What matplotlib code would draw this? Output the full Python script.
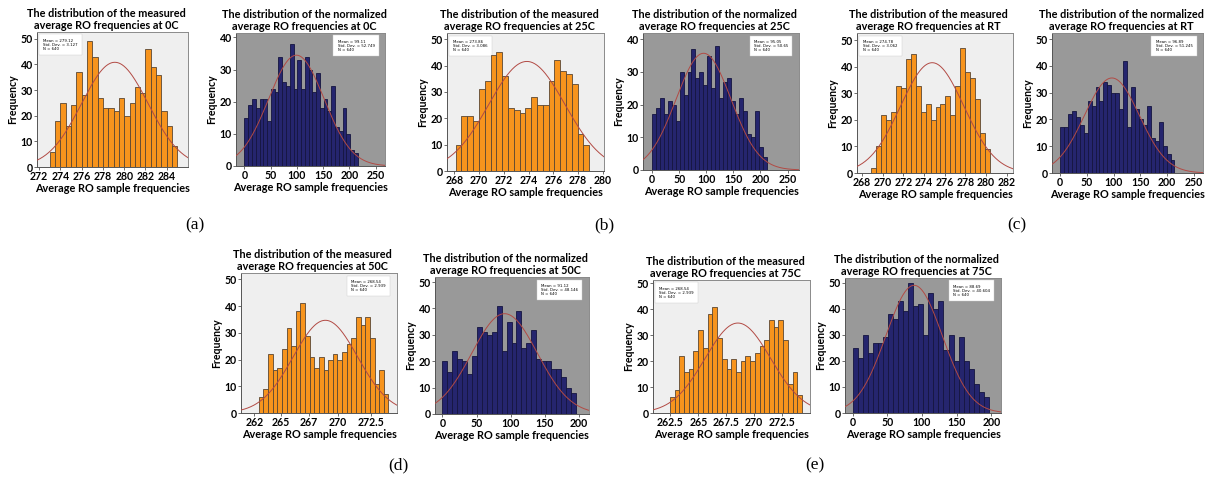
import numpy as np
import matplotlib
matplotlib.use('Agg')
import matplotlib.pyplot as plt

plt.rcParams['font.family'] = ['Lato', 'DejaVu Sans']

W, H = 1215, 479

# ---------------- data ----------------
titles = [
    "The distribution of the measured\naverage RO frequencies at 0C",
    "The distribution of the normalized\naverage RO frequencies at 0C",
    "The distribution of the measured\naverage RO frequencies at 25C",
    "The distribution of the normalized\naverage RO frequencies at 25C",
    "The distribution of the measured\naverage RO frequencies at RT",
    "The distribution of the normalized\naverage RO frequencies at RT",
    "The distribution of the measured\naverage RO frequencies at 50C",
    "The distribution of the normalized\naverage RO frequencies at 50C",
    "The distribution of the measured\naverage RO frequencies at 75C",
    "The distribution of the normalized\naverage RO frequencies at 75C",
]

counts_meas_0C = [6, 18, 25, 16, 24, 37, 28, 49, 43, 27, 23, 23, 22, 27, 20, 25, 31, 29, 46, 39, 36, 22, 16, 8]
counts_norm_0C = [15, 19, 21, 18, 21, 21, 14, 24, 23, 34, 26, 25, 38, 24, 33, 24, 34, 30, 23, 29, 18, 21, 17, 25, 12, 11, 18, 10, 5, 4]
counts_meas_25C = [10, 21, 21, 19, 31, 34, 44, 45, 36, 24, 23, 22, 24, 28, 25, 25, 34, 42, 38, 37, 33, 14, 10]
counts_norm_25C = [17, 19, 22, 17, 21, 20, 15, 30, 23, 30, 37, 28, 30, 26, 35, 25, 38, 22, 27, 28, 21, 17, 22, 18, 11, 10, 18, 7, 4]
counts_meas_RT = [2, 10, 22, 20, 23, 33, 32, 43, 45, 33, 23, 26, 20, 25, 26, 29, 22, 33, 47, 38, 36, 28, 15, 9]
counts_norm_RT = [17, 17, 22, 23, 21, 18, 15, 27, 25, 32, 27, 34, 33, 30, 30, 24, 42, 17, 32, 24, 20, 18, 25, 13, 12, 19, 10, 7, 5]
counts_meas_50C = [6, 9, 22, 16, 17, 24, 32, 25, 38, 41, 29, 21, 17, 21, 16, 20, 22, 20, 23, 26, 28, 36, 33, 36, 28, 11, 16, 7]
counts_norm_50C = [20, 16, 24, 21, 20, 15, 22, 33, 31, 30, 31, 41, 24, 35, 27, 39, 25, 27, 32, 21, 20, 20, 17, 17, 14, 10, 8]
counts_meas_75C = [6, 9, 22, 16, 17, 24, 32, 25, 38, 41, 29, 21, 17, 21, 16, 20, 22, 20, 23, 26, 28, 36, 33, 36, 28, 11, 16, 7]
counts_norm_75C = [25, 21, 30, 23, 27, 27, 29, 38, 36, 43, 39, 50, 41, 42, 30, 46, 40, 43, 24, 30, 20, 29, 20, 17, 11, 8, 6]

# first bin edge and bin width of each histogram
bin_start = [273.0, 0.0, 268.1, 0.0, 268.86, 0.0, 262.45, 0.0, 262.45, 0.0]
bin_width = [0.5, 7.2, 0.47, 7.28, 0.48, 7.37, 0.423, 7.24, 0.423, 7.28]

# fitted normal curves: mean, std dev, peak height
curve_mean = [279.12, 99.11, 273.86, 95.05, 274.78, 96.89, 268.54, 91.12, 268.54, 88.69]
curve_std = [3.127, 52.749, 3.086, 50.65, 3.062, 51.245, 2.939, 48.146, 2.939, 40.604]
curve_peak = [40.8, 34.5, 41.6, 35.7, 41.6, 35.5, 34.7, 38.0, 34.7, 49.0]
n_samples = [640] * 10

x_ticks = [
    [272, 274, 276, 278, 280, 282, 284],
    [0, 50, 100, 150, 200, 250],
    [268, 270, 272, 274, 276, 278, 280],
    [0, 50, 100, 150, 200, 250],
    [268, 270, 272, 274, 276, 278, 280, 282],
    [0, 50, 100, 150, 200, 250],
    [262.05, 264.5, 267.05, 269.65, 272.7],
    [0, 50, 100, 150, 200],
    [262.5, 265, 267.5, 270, 272.5],
    [0, 50, 100, 150, 200],
]
x_ticklabels = [
    ["272", "274", "276", "278", "280", "282", "284"],
    ["0", "50", "100", "150", "200", "250"],
    ["268", "270", "272", "274", "276", "278", "280"],
    ["0", "50", "100", "150", "200", "250"],
    ["268", "270", "272", "274", "276", "278", "280", "282"],
    ["0", "50", "100", "150", "200", "250"],
    ["262", "265", "267", "270", "272.5"],
    ["0", "50", "100", "150", "200"],
    ["262.5", "265", "267.5", "270", "272.5"],
    ["0", "50", "100", "150", "200"],
]
y_ticks = [
    [0, 10, 20, 30, 40, 50],
    [0, 10, 20, 30, 40],
    [0, 10, 20, 30, 40, 50],
    [0, 10, 20, 30, 40],
    [0, 10, 20, 30, 40, 50],
    [0, 10, 20, 30, 40, 50],
    [0, 10, 20, 30, 40, 50],
    [0, 10, 20, 30, 40, 50],
    [0, 10, 20, 30, 40, 50],
    [0, 10, 20, 30, 40, 50],
]
panel_letters = ["(a)", "(b)", "(c)", "(d)", "(e)"]

all_counts = [counts_meas_0C, counts_norm_0C, counts_meas_25C, counts_norm_25C,
              counts_meas_RT, counts_norm_RT, counts_meas_50C, counts_norm_50C,
              counts_meas_75C, counts_norm_75C]

# ---------------- layout (pixels: left, top, right, bottom) ----------------
boxes = [
    (37, 32, 188, 167),
    (236, 33, 385, 166),
    (447, 33, 604, 171),
    (643, 33, 799, 170),
    (857, 33, 1013, 173),
    (1052, 33, 1203, 173),
    (241, 273, 397, 413),
    (435, 277, 589, 414),
    (653, 280, 810, 413),
    (845, 278, 1001, 413),
]
xlims = [(271.8, 286.0), (-16, 268), (267.4, 280.1), (-16.6, 271), (267.5, 282.6),
         (-15, 267), (260.83, 275.08), (-11, 215), (260.94, 275.0), (-11, 214)]
ylims = [52.6, 41.4, 52.4, 41.9, 52.8, 52.3, 52.4, 51.9, 51.3, 51.8]
stat_right = [False, True, False, True, False, True, True, True, False, True]
letter_pos = [(195, 225), (604, 225), (1017, 225), (398, 465), (815, 465)]

fig = plt.figure(figsize=(W / 100, H / 100), dpi=100)

for i in range(10):
    l, t, r, b = boxes[i]
    ax = fig.add_axes([l / W, 1 - b / H, (r - l) / W, (b - t) / H])
    measured = (i % 2 == 0)
    face = '#F7941D' if measured else '#25256E'
    edge = '#5b4632' if measured else '#151540'
    ax.set_facecolor('#EFEFEF' if measured else '#999999')

    counts = np.array(all_counts[i], dtype=float)
    lefts = bin_start[i] + bin_width[i] * np.arange(len(counts))
    ax.bar(lefts, counts, width=bin_width[i], align='edge', color=face,
           edgecolor=edge, linewidth=0.6, zorder=2)

    xs = np.linspace(xlims[i][0], xlims[i][1], 400)
    ys = curve_peak[i] * np.exp(-0.5 * ((xs - curve_mean[i]) / curve_std[i]) ** 2)
    ax.plot(xs, ys, color='#B24A44', lw=0.7, zorder=3)

    ax.set_xlim(*xlims[i])
    ax.set_ylim(0, ylims[i])
    ax.set_xticks(x_ticks[i])
    ax.set_xticklabels(x_ticklabels[i])
    ax.set_yticks(y_ticks[i])
    ax.tick_params(axis='both', labelsize=7.6, length=2, width=0.6, pad=1,
                   color='#555555')
    for lab in ax.get_xticklabels() + ax.get_yticklabels():
        lab.set_fontweight('bold')
    for s in ax.spines.values():
        s.set_color('#8a8a8a')
        s.set_linewidth(0.7)
    ax.spines['left'].set_color('#555555')
    ax.spines['bottom'].set_color('#555555')

    ax.set_title(titles[i], fontsize=7.8, fontweight='bold', pad=2.5,
                 linespacing=1.1, x=0.46)
    ax.set_ylabel('Frequency', fontsize=7.6, fontweight='bold', labelpad=2)
    ax.set_xlabel('Average RO sample frequencies', fontsize=7.8,
                  fontweight='bold', labelpad=0.3)

    stat = "Mean = %.2f\nStd. Dev. = %g\nN = %d" % (curve_mean[i], curve_std[i],
                                                   n_samples[i])
    bbox = dict(boxstyle='square,pad=1.1', fc='white', ec='#cccccc', lw=0.3)
    if stat_right[i]:
        ax.text(0.93, 0.95, stat, transform=ax.transAxes, ha='right', va='top',
                multialignment='left', fontsize=2.8, family='DejaVu Sans',
                linespacing=1.0, bbox=bbox, zorder=1.5)
    else:
        ax.text(0.04, 0.95, stat, transform=ax.transAxes, ha='left', va='top',
                multialignment='left', fontsize=2.8, family='DejaVu Sans',
                linespacing=1.0, bbox=bbox, zorder=1.5)

for k, (x, y) in enumerate(letter_pos):
    fig.text(x / W, 1 - y / H, panel_letters[k], ha='center', va='center',
             fontsize=12.5, family='Liberation Serif')

fig.savefig('out.png', dpi=100)
